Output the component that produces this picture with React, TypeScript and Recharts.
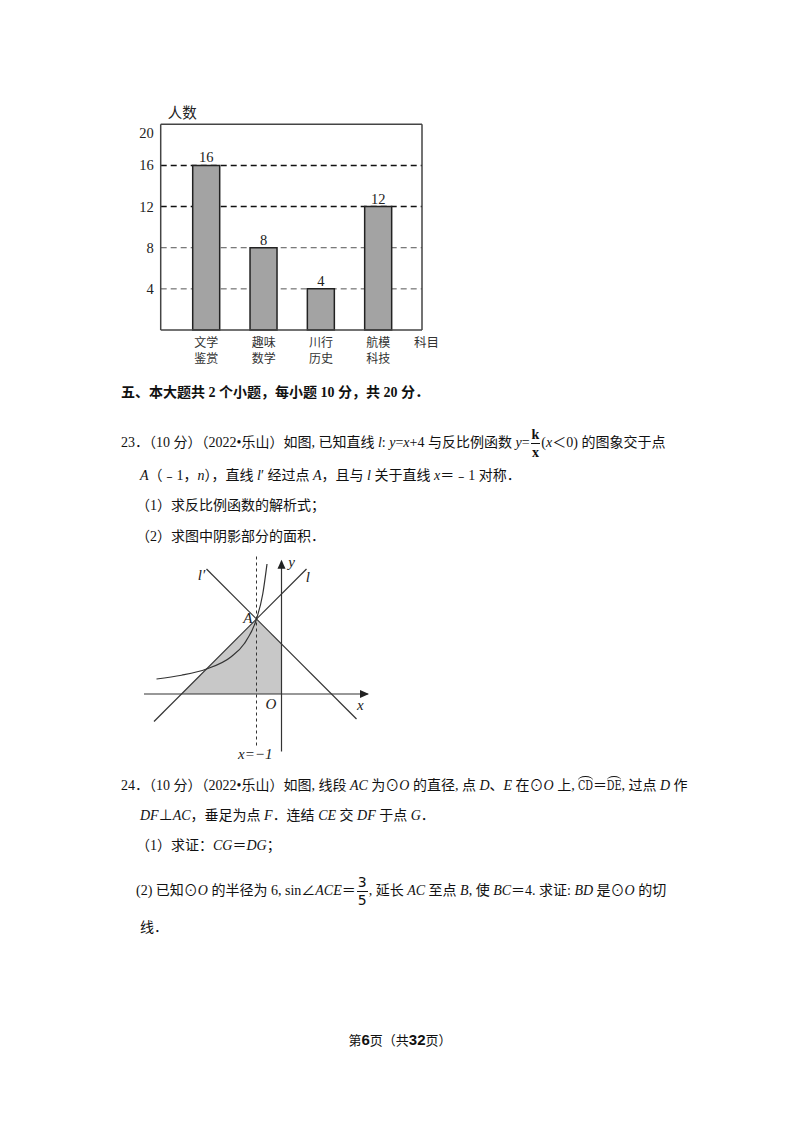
import React from "react";
import {
  BarChart,
  Bar,
  XAxis,
  YAxis,
  CartesianGrid,
  LabelList,
  Label,
  ComposedChart,
  Line,
  Area,
  ReferenceLine,
  ReferenceDot,
} from "recharts";

// bar chart data
const subjects = ["文学鉴赏", "趣味数学", "川行历史", "航模科技"];
const counts = [16, 8, 4, 12];
const countTicks = [4, 8, 12, 16, 20];
const gridValues = [4, 8, 12, 16];
const strongGrid = [12, 16]; // these two dashed lines are printed darker

// figure for question 23
const lineL = [
  { x: -5.1, y: -1.1 },
  { x: 1, y: 5 },
];
const lineLPrime = [
  { x: -3, y: 5 },
  { x: 3, y: -1 },
];
const hyperbola = [
  { x: -5, y: 0.6 },
  { x: -4, y: 0.75 },
  { x: -3, y: 1 },
  { x: -2, y: 1.5 },
  { x: -1.5, y: 2 },
  { x: -1, y: 3 },
  { x: -0.75, y: 4 },
  { x: -0.58, y: 5.2 },
];
const shaded = [
  { x: -4, y: 0 },
  { x: -1, y: 3 },
  { x: 0, y: 2 },
];
const figLabels = [
  { x: -3.2, y: 4.75, text: "l′" },
  { x: 1.05, y: 4.7, text: "l" },
  { x: 0.4, y: 5.3, text: "y" },
  { x: -1.35, y: 3.05, text: "A" },
  { x: -0.42, y: -0.38, text: "O" },
  { x: 3.15, y: -0.45, text: "x" },
  { x: -1.05, y: -2.4, text: "x=−1" },
];

const barData = subjects.map((name, i) => ({ name, count: counts[i] }));

const SERIF = "'Liberation Serif', 'Noto Sans CJK SC', serif";
const CJK = "'Noto Sans CJK SC', sans-serif";

function SubjectTick(props: any) {
  const { x, y, payload } = props;
  const s: string = payload.value;
  return (
    <g>
      <text x={x} y={y} dy={16.5} textAnchor="middle" fontSize={12} fill="#333" fontFamily={CJK}>
        {s.slice(0, 2)}
      </text>
      <text x={x} y={y} dy={32.5} textAnchor="middle" fontSize={12} fill="#333" fontFamily={CJK}>
        {s.slice(2)}
      </text>
    </g>
  );
}

function CountTick(props: any) {
  const { x, y, payload } = props;
  return (
    <text
      x={x}
      y={y}
      dy={payload.value === 20 ? 14 : 5}
      textAnchor="end"
      fontSize={14.5}
      fill="#222"
      fontFamily={SERIF}
    >
      {payload.value}
    </text>
  );
}

function GridLine(props: any) {
  const { x1, y1, x2, y2, index } = props;
  const strong = strongGrid.includes(gridValues[index]);
  return (
    <line
      x1={x1}
      y1={y1}
      x2={x2}
      y2={y2}
      stroke={strong ? "#111" : "#555"}
      strokeWidth={strong ? 1.5 : 1}
      strokeDasharray="6 4"
      fill="none"
    />
  );
}

const boxLine = { stroke: "#444", strokeWidth: 1.5 };

function SubjectChart() {
  return (
    <BarChart
      width={480}
      height={380}
      data={barData}
      margin={{ top: 123.3, right: 57, bottom: 10, left: 120.7 }}
    >
      <CartesianGrid vertical={false} horizontalValues={gridValues} horizontal={(p: any) => <GridLine key={p.key} {...p} />} />
      <XAxis
        dataKey="name"
        height={40}
        tickSize={0}
        tickMargin={0}
        tickLine={false}
        padding={{ left: 17, right: 15 }}
        axisLine={boxLine}
        tick={<SubjectTick />}
        interval={0}
      >
        <Label
          content={({ viewBox }: any) => (
            <text
              x={viewBox.x + viewBox.width - 8}
              y={viewBox.y + 16.5}
              fontSize={12.5}
              fill="#333"
              fontFamily={CJK}
            >
              科目
            </text>
          )}
        />
      </XAxis>
      <XAxis
        xAxisId="top"
        orientation="top"
        dataKey="name"
        height={1}
        tick={false}
        tickLine={false}
        axisLine={boxLine}
      />
      <YAxis
        domain={[0, 20]}
        ticks={countTicks}
        width={40}
        tickSize={0}
        tickMargin={7}
        tickLine={false}
        axisLine={boxLine}
        tick={<CountTick />}
      >
        <Label
          content={({ viewBox }: any) => (
            <text
              x={viewBox.x + viewBox.width + 7}
              y={viewBox.y - 6}
              fontSize={14.5}
              fill="#222"
              fontFamily={CJK}
            >
              人数
            </text>
          )}
        />
      </YAxis>
      <YAxis
        yAxisId="right"
        orientation="right"
        domain={[0, 20]}
        width={1}
        tick={false}
        tickLine={false}
        axisLine={boxLine}
      />
      <Bar
        dataKey="count"
        barSize={27}
        fill="#a3a3a3"
        stroke="#222"
        strokeWidth={1.5}
        isAnimationActive={false}
      >
        <LabelList
          dataKey="count"
          position="top"
          offset={3}
          fontSize={14.5}
          fill="#222"
          fontFamily={SERIF}
        />
      </Bar>
    </BarChart>
  );
}

function FigureChart() {
  return (
    <ComposedChart width={235} height={215} margin={{ top: 0, right: 0, bottom: 0, left: 0 }}>
      <XAxis type="number" dataKey="x" domain={[-5.7, 3.7]} hide allowDataOverflow />
      <YAxis type="number" dataKey="y" domain={[-3, 5.6]} hide allowDataOverflow />
      <Area
        data={shaded}
        dataKey="y"
        type="linear"
        baseValue={0}
        fill="#c8c8c8"
        fillOpacity={1}
        stroke="none"
        isAnimationActive={false}
      />
      <ReferenceLine segment={[{ x: -5.5, y: 0 }, { x: 3.45, y: 0 }]} stroke="#333" strokeWidth={1.2} />
      <ReferenceLine segment={[{ x: 0, y: -2.3 }, { x: 0, y: 5.3 }]} stroke="#333" strokeWidth={1.2} />
      <ReferenceLine
        segment={[{ x: -1, y: 5.5 }, { x: -1, y: -2.1 }]}
        stroke="#333"
        strokeWidth={1}
        strokeDasharray="3 3"
      />
      <ReferenceDot
        x={3.5}
        y={0}
        r={0}
        shape={(p: any) => <path d={`M${p.cx},${p.cy} l-9,-4 l0,8 z`} fill="#222" />}
      />
      <ReferenceDot
        x={0}
        y={5.37}
        r={0}
        shape={(p: any) => <path d={`M${p.cx},${p.cy} l-4,9 l8,0 z`} fill="#222" />}
      />
      <Line data={lineL} dataKey="y" type="linear" stroke="#333" strokeWidth={1.2} dot={false} isAnimationActive={false} />
      <Line data={lineLPrime} dataKey="y" type="linear" stroke="#333" strokeWidth={1.2} dot={false} isAnimationActive={false} />
      <Line data={hyperbola} dataKey="y" type="monotone" stroke="#333" strokeWidth={1.2} dot={false} isAnimationActive={false} />
      {figLabels.map((l) => (
        <ReferenceDot
          key={l.text}
          x={l.x}
          y={l.y}
          r={0}
          shape={(p: any) => (
            <text
              x={p.cx}
              y={p.cy}
              dy={5}
              textAnchor="middle"
              fontSize={15}
              fontStyle="italic"
              fill="#222"
              fontFamily={SERIF}
            >
              {l.text}
            </text>
          )}
        />
      ))}
    </ComposedChart>
  );
}

const lineStyle = (top: number, left: number): React.CSSProperties => ({
  position: "absolute",
  top: top - 10,
  left,
  height: 20,
  lineHeight: "20px",
  whiteSpace: "nowrap",
  fontSize: 14,
  fontFamily: SERIF,
  color: "#111",
});

function Arc({ children }: { children: React.ReactNode }) {
  return (
    <span
      style={{
        position: "relative",
        display: "inline-block",
        fontFamily: "'DejaVu Serif', serif",
        fontSize: 12,
        transform: "scaleX(0.8)",
        margin: "0 -2px",
      }}
    >
      {children}
      <span
        style={{
          position: "absolute",
          left: 0,
          right: 0,
          top: 0,
          height: 8,
          borderTop: "1px solid #111",
          borderRadius: "50% 50% 0 0",
        }}
      />
    </span>
  );
}

function Frac({ top, bottom, sans }: { top: string; bottom: string; sans?: boolean }) {
  return (
    <span
      style={{
        display: "inline-flex",
        flexDirection: "column",
        alignItems: "center",
        verticalAlign: "middle",
        lineHeight: "17px",
        margin: "0 1px",
        fontFamily: sans ? "'DejaVu Sans', sans-serif" : SERIF,
        fontWeight: sans ? 400 : 700,
      }}
    >
      <span style={{ borderBottom: "1px solid #111", padding: "0 1px" }}>{top}</span>
      <span>{bottom}</span>
    </span>
  );
}

export default function App() {
  return (
    <div
      style={{
        position: "absolute",
        left: 0,
        top: 0,
        width: 800,
        height: 1132,
        background: "#fff",
        overflow: "hidden",
      }}
    >
      <div style={{ position: "absolute", left: 0, top: 0 }}>
        <SubjectChart />
      </div>

      <div style={{ ...lineStyle(393, 121), fontWeight: 700 }}>
        五、本大题共 2 个小题，每小题 10 分，共 20 分．
      </div>

      <div style={lineStyle(436, 121)}>
        23．（10 分）（2022•乐山）如图, 已知直线 <i>l</i>: <i>y</i>=<i>x</i>+4 与反比例函数 <i>y</i>=
        <Frac top="k" bottom="x" />(<i>x</i>＜0) 的图象交于点
      </div>
      <div style={lineStyle(476, 140)}>
        <i>A</i>（﹣1，<i>n</i>），直线 <i>l</i>′ 经过点 <i>A</i>，且与 <i>l</i> 关于直线 <i>x</i>＝﹣1 对称．
      </div>
      <div style={lineStyle(506, 136)}>（1）求反比例函数的解析式；</div>
      <div style={lineStyle(537, 136)}>（2）求图中阴影部分的面积．</div>

      <div style={{ position: "absolute", left: 138.5, top: 554 }}>
        <FigureChart />
      </div>

      <div style={lineStyle(786, 121)}>
        24．（10 分）（2022•乐山）如图, 线段 <i>AC</i> 为⊙<i>O</i> 的直径, 点 <i>D</i>、<i>E</i> 在⊙<i>O</i> 上,{" "}
        <Arc>CD</Arc>＝<Arc>DE</Arc>, 过点 <i>D</i> 作
      </div>
      <div style={lineStyle(816, 140)}>
        <i>DF</i>⊥<i>AC</i>，垂足为点 <i>F</i>．连结 <i>CE</i> 交 <i>DF</i> 于点 <i>G</i>．
      </div>
      <div style={lineStyle(846, 136)}>
        （1）求证：<i>CG</i>＝<i>DG</i>；
      </div>
      <div style={lineStyle(884, 136)}>
        (2) 已知⊙<i>O</i> 的半径为 6, sin∠<i>ACE</i>＝<Frac top="3" bottom="5" sans />, 延长 <i>AC</i> 至点 <i>B</i>, 使 <i>BC</i>＝4. 求证: <i>BD</i> 是⊙<i>O</i> 的切
      </div>
      <div style={lineStyle(928, 140)}>线．</div>

      <div
        style={{
          position: "absolute",
          top: 1030,
          left: 0,
          width: 800,
          textAlign: "center",
          fontSize: 13,
          lineHeight: "20px",
          fontFamily: CJK,
          color: "#111",
        }}
      >
        第<b style={{ fontFamily: "'Liberation Sans', sans-serif", fontSize: 15 }}>6</b>页（共
        <b style={{ fontFamily: "'Liberation Sans', sans-serif", fontSize: 15 }}>32</b>页）
      </div>
    </div>
  );
}
